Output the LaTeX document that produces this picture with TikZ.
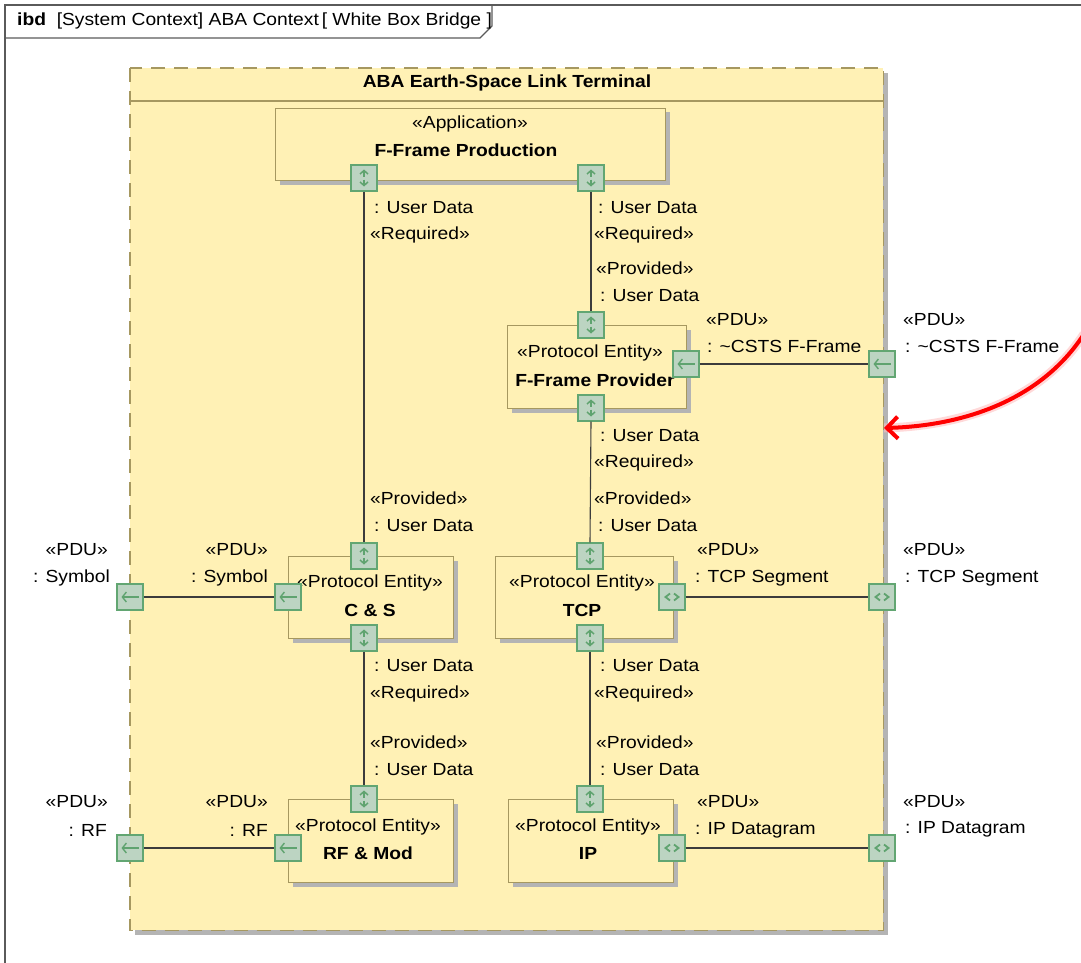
\documentclass[tikz,border=0pt]{standalone}
\usepackage{fontspec}
\setmainfont{Liberation Sans}[FakeStretch=1.1]
\usetikzlibrary{arrows.meta,shadows}
\definecolor{boxfill}{HTML}{FFF1B5}
\definecolor{boxline}{HTML}{A69860}
\definecolor{portfill}{HTML}{BCD4C2}
\definecolor{portline}{HTML}{62A672}
\definecolor{glyph}{HTML}{5FA36F}
\definecolor{frameline}{HTML}{5A5A5A}
\definecolor{connline}{HTML}{3C3C3C}
\definecolor{shadowgray}{HTML}{B4B4B4}
\tikzset{
  txt/.style={inner sep=0pt, font=\fontsize{17.5}{20}\selectfont},
  btxt/.style={txt, font=\fontsize{17.5}{20}\selectfont\bfseries},
  blockbox/.style={draw=boxline, fill=boxfill, line width=1pt, inner sep=0pt, anchor=north west,
    drop shadow={shadow xshift=4pt, shadow yshift=-4pt, fill=shadowgray, opacity=1}},
  portbox/.style={draw=portline, fill=portfill, line width=1.4pt, minimum size=26pt, inner sep=0pt},
  portud/.style={portbox, path picture={
    \draw[glyph, line width=1.5pt, -{Straight Barb[length=3.5pt,width=8pt]}, shift={(path picture bounding box.center)}] (0pt,1.5pt) -- (0pt,8.5pt);
    \draw[glyph, line width=1.5pt, -{Straight Barb[length=3.5pt,width=8pt]}, shift={(path picture bounding box.center)}] (0pt,-1.5pt) -- (0pt,-8.5pt);}},
  portleft/.style={portbox, path picture={
    \draw[glyph, line width=1.4pt, -{Straight Barb[length=4pt,width=10pt]}, shift={(path picture bounding box.center)}] (8.5pt,0pt) -- (-8.5pt,0pt);}},
  portlr/.style={portbox, path picture={
    \draw[glyph, line width=1.8pt, shift={(path picture bounding box.center)}] (-2pt,3.5pt) -- (-6.5pt,0pt) -- (-2pt,-3.5pt) (2pt,3.5pt) -- (6.5pt,0pt) -- (2pt,-3.5pt);}},
  conn/.style={draw=connline, line width=1.1pt},
}
\begin{document}
\begin{tikzpicture}[x=1pt,y=-1pt]
\useasboundingbox (0,0) rectangle (1081,963);
% outer frame
\draw[frameline, line width=1.2pt] (5,963) -- (5,5) -- (1081,5);
\draw[frameline, line width=1.2pt] (5,38) -- (480,38) -- (492,26) -- (492,5);
\node[txt, anchor=west] (hdr) at (17,21) {{\bfseries ibd}\ \ [System Context]\ ABA Context\,[\ White Box Bridge ]};
% terminal block
\node[draw=none, fill=boxfill, inner sep=0pt, anchor=north west, minimum width=753pt, minimum height=862pt,
  drop shadow={shadow xshift=5pt, shadow yshift=-5pt, fill=shadowgray, opacity=1}] (term) at (130,68) {};
\draw[boxline, line width=1.3pt, dash pattern=on 14pt off 9pt] (term.north west) rectangle (term.south east);
\draw[boxline, line width=1.2pt] (130,101) -- (883,101);
\node[btxt] (termtitle) at (507,83) {ABA Earth-Space Link Terminal};
% blocks
\node[blockbox, minimum width=390pt, minimum height=72pt] (ffp) at (275,108) {};
\node[blockbox, minimum width=179pt, minimum height=83pt] (fpv) at (507,325) {};
\node[blockbox, minimum width=178pt, minimum height=82pt] (tcp) at (495,556) {};
\node[blockbox, minimum width=165pt, minimum height=83pt] (ip) at (508,799) {};
\node[blockbox, minimum width=165pt, minimum height=82pt] (cs) at (288,556) {};
\node[blockbox, minimum width=165pt, minimum height=83pt] (rf) at (288,799) {};
% block texts
\node[txt] (ffpS) at (470,124) {«Application»};
\node[btxt] (ffpN) at (466,150) {F-Frame Production};
\node[txt] (fpvS) at (590,353) {«Protocol Entity»};
\node[btxt] (fpvN) at (595,380) {F-Frame Provider};
\node[txt] (tcpS) at (582,583) {«Protocol Entity»};
\node[btxt] (tcpN) at (582,610) {TCP};
\node[txt] (ipS) at (588,827) {«Protocol Entity»};
\node[btxt] (ipN) at (588,853) {IP};
\node[txt] (csS) at (370,583) {«Protocol Entity»};
\node[btxt] (csN) at (370,610) {C \& S};
\node[txt] (rfS) at (368,827) {«Protocol Entity»};
\node[btxt] (rfN) at (368,853) {RF \& Mod};
% ports
\node[portud] (ffpL) at (364,178) {};
\node[portud] (ffpR) at (591,178) {};
\node[portud] (fpvT) at (591,325) {};
\node[portleft] (fpvR) at (686,364) {};
\node[portud] (fpvB) at (591,408) {};
\node[portleft] (extCSTS) at (882,364) {};
\node[portud] (tcpT) at (590,556) {};
\node[portlr] (tcpR) at (672,597) {};
\node[portud] (tcpB) at (590,638) {};
\node[portlr] (extTCP) at (882,597) {};
\node[portud] (ipT) at (590,799) {};
\node[portlr] (ipR) at (672,848) {};
\node[portlr] (extIP) at (882,848) {};
\node[portud] (csT) at (364,556) {};
\node[portleft] (csL) at (288,597) {};
\node[portud] (csB) at (364,638) {};
\node[portleft] (extSym) at (130,597) {};
\node[portud] (rfT) at (364,799) {};
\node[portleft] (rfL) at (288,848) {};
\node[portleft] (extRF) at (130,848) {};
% connectors
\draw[conn] (ffpL.south) -- (csT.north);
\draw[conn] (ffpR.south) -- (fpvT.north);
\draw[conn] (fpvB.south) -- (tcpT.north);
\draw[conn] (tcpB.south) -- (ipT.north);
\draw[conn] (csB.south) -- (rfT.north);
\draw[conn] (fpvR.east) -- (extCSTS.west);
\draw[conn] (tcpR.east) -- (extTCP.west);
\draw[conn] (ipR.east) -- (extIP.west);
\draw[conn] (extSym.east) -- (csL.west);
\draw[conn] (extRF.east) -- (rfL.west);
% role labels left column
\node[txt, anchor=west] (l1) at (374,208) {: User Data};
\node[txt, anchor=west] (l2) at (370,235) {«Required»};
\node[txt, anchor=west] (l3) at (370,498) {«Provided»};
\node[txt, anchor=west] (l4) at (374,526) {: User Data};
\node[txt, anchor=west] (l5) at (374,666) {: User Data};
\node[txt, anchor=west] (l6) at (370,694) {«Required»};
\node[txt, anchor=west] (l7) at (370,742) {«Provided»};
\node[txt, anchor=west] (l8) at (374,770) {: User Data};
% role labels right column
\node[txt, anchor=west] (r1) at (598,208) {: User Data};
\node[txt, anchor=west] (r2) at (594,235) {«Required»};
\node[txt, anchor=west] (r3) at (596,268) {«Provided»};
\node[txt, anchor=west] (r4) at (600,296) {: User Data};
\node[txt, anchor=west] (r5) at (600,436) {: User Data};
\node[txt, anchor=west] (r6) at (594,463) {«Required»};
\node[txt, anchor=west] (r7) at (594,498) {«Provided»};
\node[txt, anchor=west] (r8) at (598,526) {: User Data};
\node[txt, anchor=west] (r9) at (600,666) {: User Data};
\node[txt, anchor=west] (r10) at (594,694) {«Required»};
\node[txt, anchor=west] (r11) at (596,742) {«Provided»};
\node[txt, anchor=west] (r12) at (600,770) {: User Data};
% PDU labels
\node[txt, anchor=west] (p1) at (706,320) {«PDU»};
\node[txt, anchor=west] (p2) at (707,346) {: \textasciitilde CSTS F-Frame};
\node[txt, anchor=west] (p3) at (903,320) {«PDU»};
\node[txt, anchor=west] (p4) at (905,346) {: \textasciitilde CSTS F-Frame};
\node[txt, anchor=west] (p5) at (697,550) {«PDU»};
\node[txt, anchor=west] (p6) at (695,578) {: TCP Segment};
\node[txt, anchor=west] (p7) at (903,550) {«PDU»};
\node[txt, anchor=west] (p8) at (905,578) {: TCP Segment};
\node[txt, anchor=west] (p9) at (697,802) {«PDU»};
\node[txt, anchor=west] (p10) at (695,830) {: IP Datagram};
\node[txt, anchor=west] (p11) at (903,802) {«PDU»};
\node[txt, anchor=west] (p12) at (905,829) {: IP Datagram};
\node[txt, anchor=east] (p13) at (268,550) {«PDU»};
\node[txt, anchor=east] (p14) at (268,578) {: Symbol};
\node[txt, anchor=east] (p15) at (108,550) {«PDU»};
\node[txt, anchor=east] (p16) at (110,578) {: Symbol};
\node[txt, anchor=east] (p17) at (268,802) {«PDU»};
\node[txt, anchor=east] (p18) at (268,830) {: RF};
\node[txt, anchor=east] (p19) at (108,802) {«PDU»};
\node[txt, anchor=east] (p20) at (107,830) {: RF};
% red arrow
\coordinate (rs) at (1084,334);
\coordinate (re) at (884,428);
\draw[red!25, line width=9pt, opacity=0.6] (rs) .. controls (1040,402) and (960,426) .. (re);
\draw[red, line width=4pt, -{Straight Barb[length=11pt,width=22pt]}] (rs) .. controls (1040,402) and (960,426) .. (re);
\end{tikzpicture}
\end{document}
